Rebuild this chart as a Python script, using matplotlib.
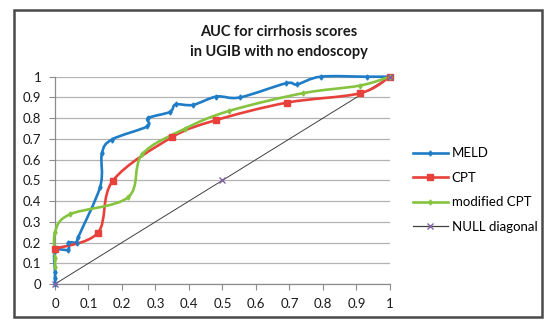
import numpy as np
import matplotlib
matplotlib.use('Agg')
import matplotlib.pyplot as plt
from matplotlib.path import Path
from matplotlib.patches import PathPatch, Rectangle
from matplotlib.lines import Line2D

plt.rcParams['font.family'] = ['Lato', 'DejaVu Sans']

# ROC points (1 - specificity, sensitivity)
meld_x = [0, 0, 0, 0, 0.04, 0.04, 0.065, 0.07, 0.135, 0.14, 0.17, 0.275, 0.278, 0.343,
          0.36, 0.412, 0.482, 0.552, 0.689, 0.723, 0.793, 0.93, 1]
meld_y = [0, 0.03, 0.06, 0.16, 0.165, 0.2, 0.2, 0.228, 0.47, 0.63, 0.697, 0.76, 0.80, 0.83,
          0.866, 0.864, 0.904, 0.90, 0.968, 0.963, 1.0, 1.0, 1]

cpt_x = [0, 0.128, 0.173, 0.348, 0.48, 0.693, 0.91, 1]
cpt_y = [0.17, 0.247, 0.499, 0.707, 0.79, 0.875, 0.92, 1]

mcpt_x = [0, 0, 0, 0.044, 0.218, 0.26, 0.389, 0.52, 0.739, 0.91, 1]
mcpt_y = [0.08, 0.125, 0.25, 0.336, 0.418, 0.625, 0.75, 0.835, 0.92, 0.957, 1]

null_x = [0, 0.5, 1]
null_y = [0, 0.5, 1]

series_names = ['MELD', 'CPT', 'modified CPT', 'NULL diagonal']


def smooth_path(xs, ys):
    """Excel-style smoothed line: cubic Bezier segments through the points."""
    p = np.column_stack([xs, ys]).astype(float)
    n = len(p)
    verts = [p[0]]
    codes = [Path.MOVETO]
    for i in range(n - 1):
        p0 = p[i - 1] if i > 0 else p[i]
        p3 = p[i + 2] if i + 2 < n else p[i + 1]
        c1 = p[i] + (p[i + 1] - p0) / 6.0
        c2 = p[i + 1] - (p3 - p[i]) / 6.0
        verts += [c1, c2, p[i + 1]]
        codes += [Path.CURVE4] * 3
    return Path(verts, codes)


fig = plt.figure(figsize=(5.5, 3.3), dpi=100)
ax = fig.add_axes([0.1, 0.1394, 0.609, 0.6282])

# chart-area frame
fig.patches.append(Rectangle((14 / 550, 1 - 317 / 330), 528 / 550, 307 / 330,
                             transform=fig.transFigure, fill=False,
                             edgecolor='#4a4a4a', linewidth=1.8))

styles = [
    (meld_x, meld_y, '#1f7cc6', 'd', 2.6, 1.9),
    (cpt_x, cpt_y, '#e8413c', 's', 3.8, 1.9),
    (mcpt_x, mcpt_y, '#86c440', 'd', 2.6, 1.9),
]
handles = []
for (xs, ys, col, mk, ms, lw), name in zip(styles, series_names):
    ax.add_patch(PathPatch(smooth_path(xs, ys), fill=False, edgecolor=col,
                           linewidth=lw, zorder=3, capstyle='round', clip_on=False))
    ax.plot(xs, ys, linestyle='none', marker=mk, markersize=ms, color=col,
            zorder=4, clip_on=False)
    handles.append(Line2D([], [], color=col, linewidth=lw, marker=mk, markersize=ms))

ax.plot(null_x, null_y, color='#404040', linewidth=0.7, zorder=2)
ax.plot(null_x, null_y, linestyle='none', marker='x', markersize=4,
        markeredgewidth=1.0, color='#8064a2', zorder=5, clip_on=False)
handles.append(Line2D([], [], color='#404040', linewidth=0.9, marker='x',
                      markersize=4, markeredgecolor='#8064a2'))

ax.set_xlim(0, 1)
ax.set_ylim(0, 1)
ticks = np.round(np.arange(0, 1.01, 0.1), 1)
labels = ['0' if t == 0 else ('1' if t == 1 else f'{t:g}') for t in ticks]
ax.set_xticks(ticks)
ax.set_yticks(ticks)
ax.set_xticklabels(labels)
ax.set_yticklabels(labels)
ax.tick_params(axis='both', direction='out', length=4, color='#8c8c8c',
               labelsize=9.5, labelcolor='#1a1a1a', pad=6)
ax.grid(axis='y', color='#b3b3b3', linewidth=0.9)
ax.set_axisbelow(True)
for side in ['top', 'right']:
    ax.spines[side].set_visible(False)
for side in ['left', 'bottom']:
    ax.spines[side].set_color('#8c8c8c')
    ax.spines[side].set_linewidth(0.9)

fig.text(0.507, 1 - 32 / 330, 'AUC for cirrhosis scores', ha='center', va='center',
         fontsize=10.5, fontweight='bold', color='#1a1a1a')
fig.text(0.507, 1 - 52 / 330, 'in UGIB with no endoscopy', ha='center', va='center',
         fontsize=10.5, fontweight='bold', color='#1a1a1a')

fig.legend(handles, series_names, loc='upper left', bbox_to_anchor=(408 / 550, 1 - 142 / 330),
           frameon=False, fontsize=9.5, handlelength=2.6, handletextpad=0.3,
           labelspacing=0.95, borderaxespad=0)

fig.savefig('out.png', dpi=100)
